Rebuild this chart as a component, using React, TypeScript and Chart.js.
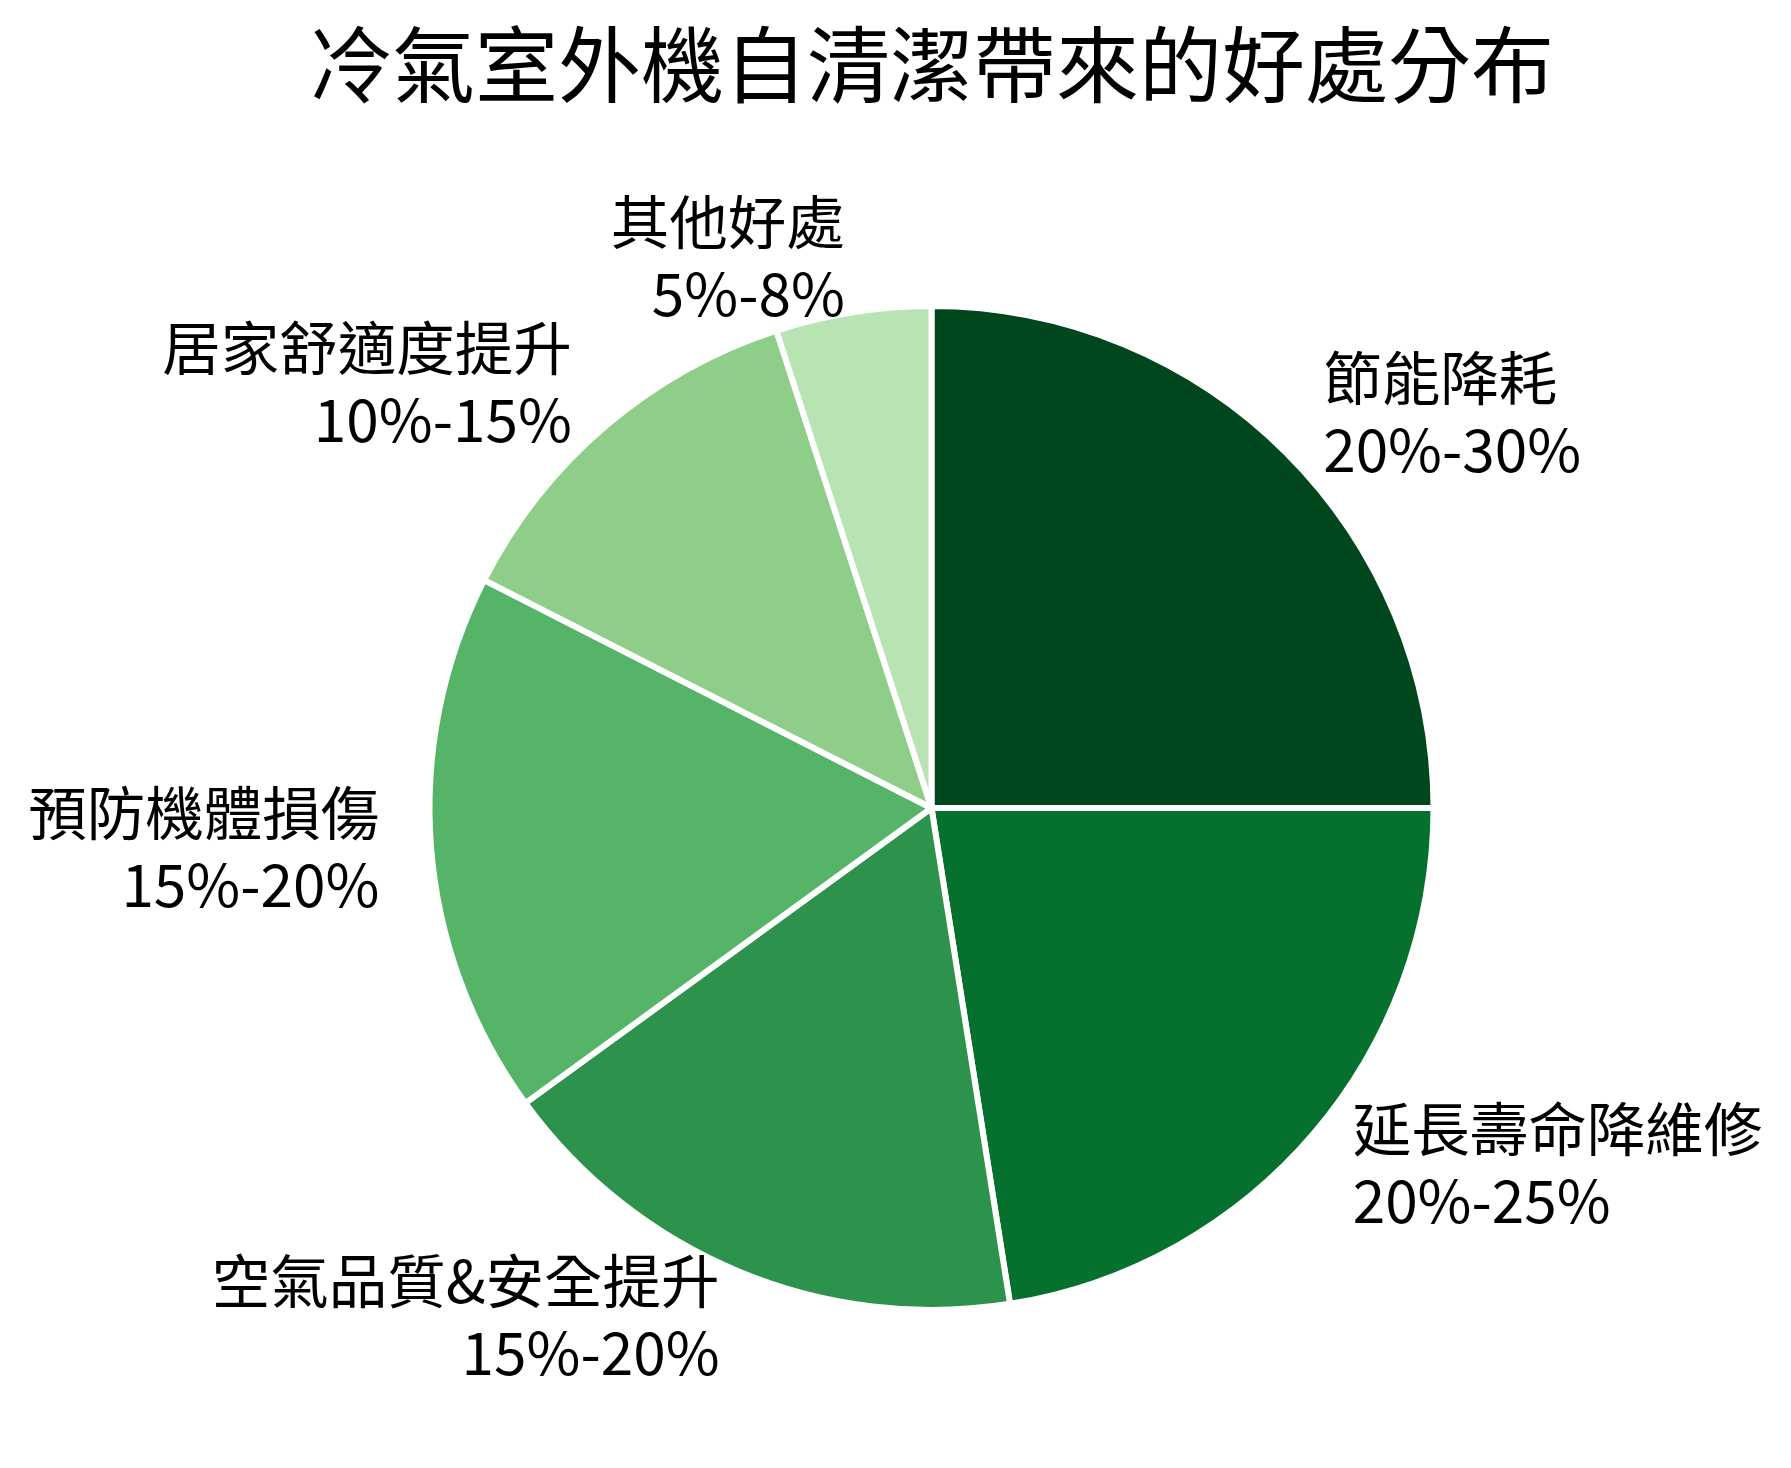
import { useEffect, useRef } from 'react'
import { Chart, registerables } from 'chart.js'
import type { Plugin } from 'chart.js'

Chart.register(...registerables)

const categories = ['節能降耗', '延長壽命降維修', '空氣品質&安全提升', '預防機體損傷', '居家舒適度提升', '其他好處']
const shares = [25, 22.5, 17.5, 17.5, 12.5, 5]
const rangeLabels = ['20%-30%', '20%-25%', '15%-20%', '15%-20%', '10%-15%', '5%-8%']
const colors = ['#00471e', '#06702f', '#2c924c', '#55b467', '#8fce88', '#b8e3b3']

const FONT = '"Noto Sans CJK TC", "Noto Sans CJK SC", "Noto Sans", sans-serif'

// two-line labels placed outside each slice, like matplotlib's labeldistance
const outsideLabels: Plugin<'pie'> = {
  id: 'outsideLabels',
  afterDatasetsDraw(chart) {
    const ctx = chart.ctx
    const meta = chart.getDatasetMeta(0)
    ctx.save()
    ctx.font = `58.5px ${FONT}`
    ctx.fillStyle = '#000'
    ctx.textBaseline = 'middle'
    meta.data.forEach((el, i) => {
      const { x, y, startAngle, endAngle, outerRadius } = (el as any).getProps(
        ['x', 'y', 'startAngle', 'endAngle', 'outerRadius'],
        true
      )
      const mid = (startAngle + endAngle) / 2
      const dist = 1.11 * (outerRadius - 3)
      const lx = x + Math.cos(mid) * dist
      const ly = y + Math.sin(mid) * dist - 3
      ctx.textAlign = lx >= x ? 'left' : 'right'
      ctx.fillText(categories[i], lx, ly - 36)
      ctx.fillText(rangeLabels[i], lx, ly + 36)
    })
    ctx.restore()
  },
}

export default function App() {
  const chartRef = useRef<HTMLCanvasElement>(null)
  const chartInstance = useRef<Chart | null>(null)

  useEffect(() => {
    if (!chartRef.current) return
    if (chartInstance.current) chartInstance.current.destroy()

    const ctx = chartRef.current.getContext('2d')
    if (!ctx) return

    chartInstance.current = new Chart(ctx, {
      type: 'pie',
      data: {
        labels: categories,
        datasets: [
          {
            data: shares,
            backgroundColor: colors,
            borderColor: '#ffffff',
            borderWidth: 6,
            radius: 502,
          } as any,
        ],
      },
      options: {
        responsive: false,
        animation: false,
        devicePixelRatio: 1,
        layout: {
          padding: { left: 72, right: 0, top: 0, bottom: 0 },
        },
        plugins: {
          legend: { display: false },
          tooltip: { enabled: false },
          title: {
            display: true,
            text: '冷氣室外機自清潔帶來的好處分布',
            color: '#000',
            font: { family: FONT, size: 83, weight: 'normal', lineHeight: 1.2 },
            padding: { top: 15, bottom: 33.4 },
          },
        },
      },
      plugins: [outsideLabels],
    })

    return () => {
      if (chartInstance.current) {
        chartInstance.current.destroy()
        chartInstance.current = null
      }
    }
  }, [])

  return (
    <div style={{ position: 'absolute', left: 0, top: 0, width: 1791, height: 1468, background: '#fff' }}>
      <canvas ref={chartRef} width={1791} height={1468} style={{ display: 'block' }} />
    </div>
  )
}
